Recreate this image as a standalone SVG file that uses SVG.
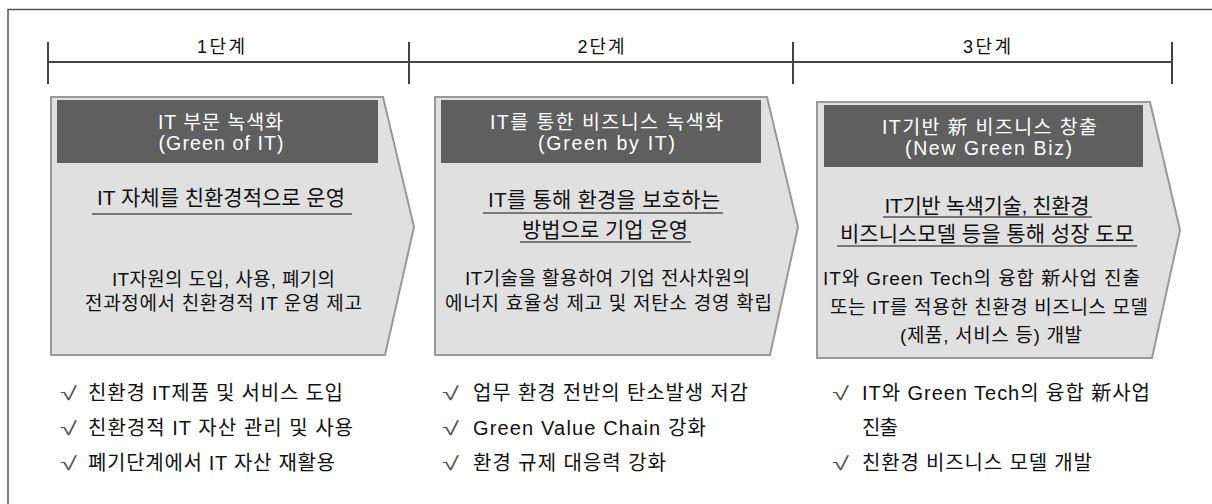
<svg xmlns="http://www.w3.org/2000/svg" width="1212" height="504" viewBox="0 0 1212 504">
<style>
text{font-family:"Liberation Sans","Noto Sans CJK KR",sans-serif;fill:#111;}
.stage{font-size:18px;text-anchor:middle;}
.hd{font-size:19.5px;fill:#fff;text-anchor:middle;}
.ul{font-size:21px;text-anchor:middle;}
.bd{font-size:19px;text-anchor:middle;}
.bl{font-size:20px;}
.ck{font-size:19px;fill:#555;font-family:"Liberation Sans",sans-serif;}
.box{fill:#e0e0e0;stroke:#999;stroke-width:2;}
.head{fill:#5f5f5f;}
.uline{stroke:#555;stroke-width:1.5;}
.tl{stroke:#444;stroke-width:2;fill:none;}
</style>
<rect width="1212" height="504" fill="#fff"/>
<g id="frame"><path d="M8,504 V9.5 H1212" fill="none" stroke="#555" stroke-width="1.5"/></g>
<g id="timeline">
<line class="tl" x1="48" y1="62" x2="1172" y2="62"/>
<line class="tl" x1="48" y1="42" x2="48" y2="84"/>
<line class="tl" x1="409" y1="42" x2="409" y2="84"/>
<line class="tl" x1="793" y1="42" x2="793" y2="84"/>
<line class="tl" x1="1172" y1="42" x2="1172" y2="84"/>
<text class="stage" x="221" y="53" textLength="48">1단계</text>
<text class="stage" x="601" y="53" textLength="47">2단계</text>
<text class="stage" x="987" y="53" textLength="48">3단계</text>
</g>
<g id="stage1">
<polygon class="box" points="51,97 383,97 414,227 385,355 51,355"/>
<rect class="head" x="57" y="100" width="321" height="63"/>
<text class="hd" x="220.5" y="129" textLength="125">IT 부문 녹색화</text>
<text class="hd" x="221" y="150" textLength="125">(Green of IT)</text>
<text class="ul" x="221" y="205" textLength="248">IT 자체를 친환경적으로 운영</text>
<line class="uline" x1="92" y1="214" x2="352" y2="214"/>
<text class="bd" x="223.5" y="286" textLength="223">IT자원의 도입, 사용, 폐기의</text>
<text class="bd" x="223.5" y="310" textLength="277">전과정에서 친환경적 IT 운영 제고</text>
</g>
<g id="stage2">
<polygon class="box" points="435,97 767,97 798,227 770,355 435,355"/>
<rect class="head" x="441" y="100" width="320" height="63"/>
<text class="hd" x="606.5" y="129" textLength="233">IT를 통한 비즈니스 녹색화</text>
<text class="hd" x="606.5" y="150" textLength="137">(Green by IT)</text>
<text class="ul" x="604" y="207" textLength="232">IT를 통해 환경을 보호하는</text>
<line class="uline" x1="483" y1="213" x2="723" y2="213"/>
<text class="ul" x="605" y="237" textLength="166">방법으로 기업 운영</text>
<line class="uline" x1="520" y1="242" x2="691" y2="242"/>
<text class="bd" x="607.5" y="285" textLength="285">IT기술을 활용하여 기업 전사차원의</text>
<text class="bd" x="608.5" y="310" textLength="327">에너지 효율성 제고 및 저탄소 경영 확립</text>
</g>
<g id="stage3">
<polygon class="box" points="817,102 1150,102 1180,230 1152,358 817,358"/>
<rect class="head" x="824" y="105" width="319" height="62"/>
<text class="hd" x="989.5" y="134" textLength="215">IT기반 新 비즈니스 창출</text>
<text class="hd" x="988.5" y="155" textLength="167">(New Green Biz)</text>
<text class="ul" x="987" y="213" textLength="205">IT기반 녹색기술, 친환경</text>
<line class="uline" x1="883" y1="217" x2="1092" y2="217"/>
<text class="ul" x="987" y="241" textLength="294">비즈니스모델 등을 통해 성장 도모</text>
<line class="uline" x1="837" y1="246" x2="1137" y2="246"/>
<text class="bd" x="981.5" y="285" textLength="317">IT와 Green Tech의 융합 新사업 진출</text>
<text class="bd" x="989" y="314" textLength="318">또는 IT를 적용한 친환경 비즈니스 모델</text>
<text class="bd" x="991" y="342" textLength="182">(제품, 서비스 등) 개발</text>
</g>
<g id="bullets1">
<text class="ck" x="60" y="400" textLength="17" lengthAdjust="spacingAndGlyphs">√</text>
<text class="bl" x="88" y="400" textLength="255">친환경 IT제품 및 서비스 도입</text>
<text class="ck" x="60" y="435" textLength="17" lengthAdjust="spacingAndGlyphs">√</text>
<text class="bl" x="88" y="435" textLength="265">친환경적 IT 자산 관리 및 사용</text>
<text class="ck" x="60" y="470" textLength="17" lengthAdjust="spacingAndGlyphs">√</text>
<text class="bl" x="88" y="470" textLength="247">폐기단계에서 IT 자산 재활용</text>
</g>
<g id="bullets2">
<text class="ck" x="442" y="400" textLength="17" lengthAdjust="spacingAndGlyphs">√</text>
<text class="bl" x="473" y="400" textLength="275">업무 환경 전반의 탄소발생 저감</text>
<text class="ck" x="442" y="435" textLength="17" lengthAdjust="spacingAndGlyphs">√</text>
<text class="bl" x="473" y="435" textLength="233">Green Value Chain 강화</text>
<text class="ck" x="442" y="470" textLength="17" lengthAdjust="spacingAndGlyphs">√</text>
<text class="bl" x="473" y="470" textLength="193">환경 규제 대응력 강화</text>
</g>
<g id="bullets3">
<text class="ck" x="832" y="400" textLength="17" lengthAdjust="spacingAndGlyphs">√</text>
<text class="bl" x="862" y="400" textLength="288">IT와 Green Tech의 융합 新사업</text>
<text class="bl" x="862" y="435" textLength="36">진출</text>
<text class="ck" x="832" y="470" textLength="17" lengthAdjust="spacingAndGlyphs">√</text>
<text class="bl" x="862" y="470" textLength="230">친환경 비즈니스 모델 개발</text>
</g>
</svg>
